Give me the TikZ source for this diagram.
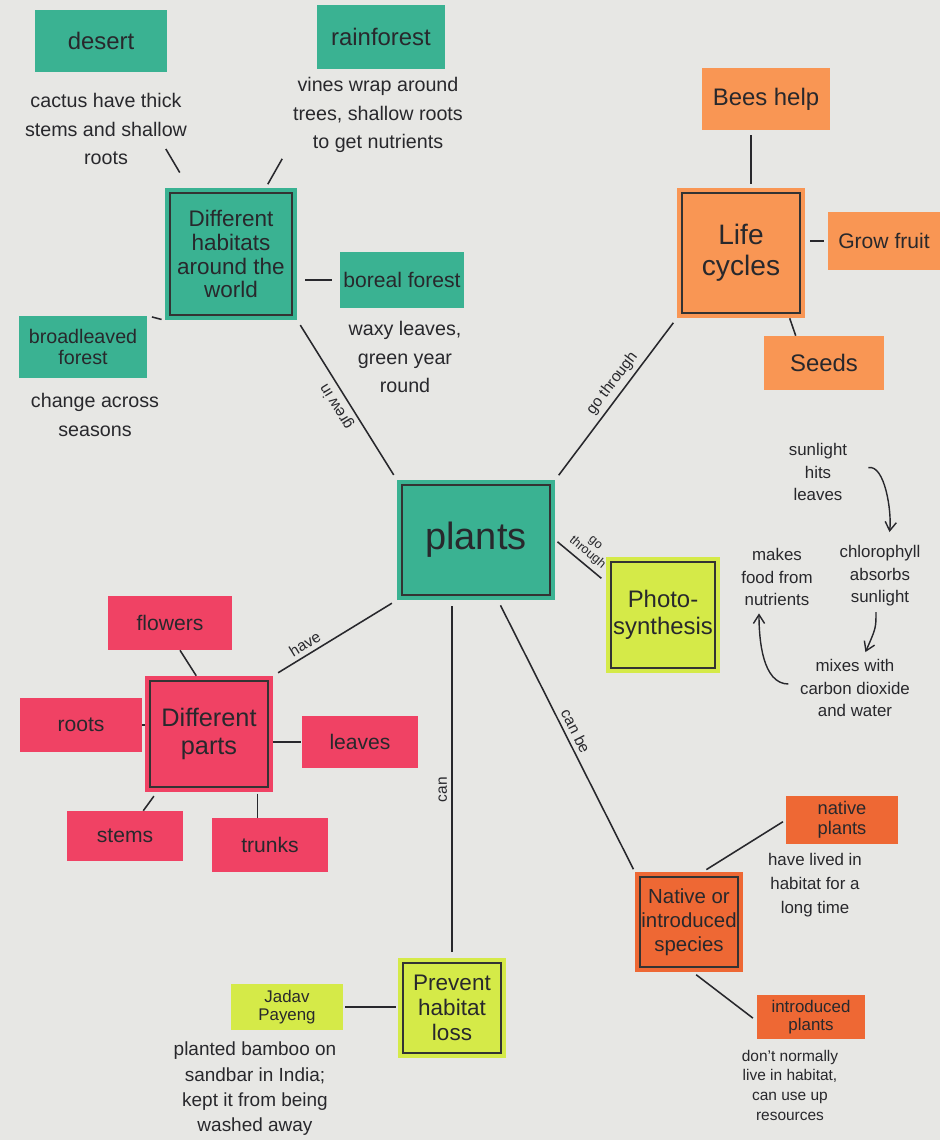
\documentclass[tikz,border=0pt]{standalone}
\usepackage{fontspec}
\setmainfont{Liberation Sans}
\usepackage{tikz}
\usetikzlibrary{arrows.meta,positioning,calc}
\definecolor{papier}{RGB}{231,231,228}
\definecolor{turqc}{RGB}{58,178,146}
\definecolor{orngc}{RGB}{249,150,84}
\definecolor{rosec}{RGB}{240,66,100}
\definecolor{jaunec}{RGB}{213,234,72}
\definecolor{rougec}{RGB}{238,104,52}
\definecolor{encre}{RGB}{40,40,44}
\newcommand{\fs}[2]{\fontsize{#1}{#2}\selectfont}
\tikzset{
  note/.style={align=center,inner sep=2pt,text=encre,font=\fs{15}{17}},
  sz/.style 2 args={minimum width=#1cm,minimum height=#2cm},
  hub/.style={note,path picture={\draw[line width=1.4pt,black!80]
      ([shift={(0.13cm,-0.13cm)}]path picture bounding box.north west) rectangle
      ([shift={(-0.13cm,0.13cm)}]path picture bounding box.south east);}},
  turq/.style={fill=turqc},
  orng/.style={fill=orngc},
  rose/.style={fill=rosec},
  jaune/.style={fill=jaunec},
  rouge/.style={fill=rougec},
  txt/.style={align=center,inner sep=1pt,text=encre,font=\fs{14}{20}},
  ln/.style={draw=encre,line width=1.1pt},
  fl/.style={ln,line width=1pt,-{Straight Barb[length=2.2mm,width=2.8mm]}},
  lbl/.style={font=\fs{11}{11},text=encre,inner sep=3pt,sloped,allow upside down},
}
\begin{document}
\begin{tikzpicture}[x=0.025cm,y=-0.025cm]
  \useasboundingbox (0,0) rectangle (940,1140);
  \fill[papier] (0,0) rectangle (940,1140);

  % centre
  \node[hub,turq,sz={3.95}{3.0},font=\fs{27}{28}] (plants) at (476,540) {plants};

  % habitats
  \node[hub,turq,sz={3.3}{3.3},font=\fs{16}{17}] (habitats) at (231,254) {Different\\habitats\\around the\\world};
  \node[note,turq,sz={3.3}{1.55},font=\fs{17}{18}] (desert) at (101,41) {desert};
  \node[note,turq,sz={3.2}{1.6},font=\fs{17}{18}] (rain) at (381,37) {rainforest};
  \node[note,turq,sz={3.1}{1.4}] (boreal) at (402,280) {boreal forest};
  \node[note,turq,sz={3.2}{1.55},font=\fs{14}{15}] (broad) at (83,347) {broadleaved\\forest};
  \node[txt] (cactus) at (106,129) {cactus have thick\\stems and shallow\\roots};
  \node[txt] (vines) at (378,115) {vines wrap around\\trees, shallow roots\\to get nutrients};
  \node[txt] (waxy) at (405,357) {waxy leaves,\\green year\\round};
  \node[txt] (seasons) at (95,415) {change across\\seasons};
  \draw[ln,shorten <=0.44cm,shorten >=0.58cm] ([xshift=0.6cm]habitats.north west) -- ([xshift=1.2cm]cactus.center);
  \draw[ln,shorten <=0.1cm,shorten >=0.8cm] ([xshift=0.87cm]habitats.north) -- ([shift={(-2cm,-0.4cm)}]vines.center);
  \draw[ln,shorten <=0.2cm,shorten >=0.2cm] (boreal.west) -- (boreal.west -| habitats.east);
  \draw[ln,shorten <=0.12cm,shorten >=0.08cm] (broad.north east) -- (habitats.south west);

  % cycles
  \node[hub,orng,sz={3.2}{3.25},font=\fs{20}{22}] (life) at (741,253) {Life\\cycles};
  \node[note,orng,sz={3.2}{1.55},font=\fs{17}{18}] (bees) at (766,99) {Bees help};
  \node[note,orng,sz={2.8}{1.45}] (fruit) at (884,241) {Grow fruit};
  \node[note,orng,sz={3.0}{1.35},font=\fs{17}{18}] (seeds) at (824,363) {Seeds};
  \draw[ln,shorten <=0.1cm,shorten >=0.12cm] ([xshift=0.25cm]life.north) -- ([xshift=0.25cm]life.north |- bees.south);
  \draw[ln,shorten <=0.1cm,shorten >=0.12cm] (fruit.west) -- (fruit.west -| life.east);
  \draw[ln] ([xshift=0.8cm]seeds.north west) -- ([xshift=0.65cm]seeds.north west |- life.south);

  % photosynthese
  \node[hub,jaune,sz={2.85}{2.9},font=\fs{17}{19}] (photo) at (663,615) {Photo-\\synthesis};
  \node[txt,font=\fs{12}{16}] (sun) at (818,472) {sunlight\\hits\\leaves};
  \node[txt,font=\fs{12}{16}] (chl) at (880,576) {chlorophyll\\absorbs\\sunlight};
  \node[txt,font=\fs{12}{16}] (mix) at (855,688) {mixes with\\carbon dioxide\\and water};
  \node[txt,font=\fs{12}{16}] (food) at (777,577) {makes\\food from\\nutrients};
  \draw[fl,shorten <=0.5cm,shorten >=0.3cm] (sun.east) .. controls +(0.9cm,0.2cm) and +(0.1cm,0.8cm) .. ([xshift=0.2cm]chl.north);
  \draw[fl,shorten <=0.1cm,shorten >=0.15cm] ([xshift=-0.1cm]chl.south) .. controls +(0cm,-0.5cm) .. ([xshift=0.2cm]mix.north);
  \draw[fl,shorten <=0.25cm,shorten >=0.15cm] ([yshift=0.1cm]mix.west) .. controls +(-0.9cm,0cm) and +(0cm,-0.8cm) .. ([xshift=-0.45cm]food.south);

  % parties
  \node[hub,rose,sz={3.2}{2.9},font=\fs{18}{20}] (parts) at (209,734) {Different\\parts};
  \node[note,rose,sz={3.1}{1.35}] (flowers) at (170,623) {flowers};
  \node[note,rose,sz={3.05}{1.35}] (roots) at (81,725) {roots};
  \node[note,rose,sz={2.9}{1.3}] (leaves) at (360,742) {leaves};
  \node[note,rose,sz={2.9}{1.25}] (stems) at (125,836) {stems};
  \node[note,rose,sz={2.9}{1.35}] (trunks) at (270,845) {trunks};
  \draw[ln] ([xshift=0.25cm]flowers.south) -- ([xshift=-0.32cm]parts.north);
  \draw[ln] (roots.east) -- (roots.east -| parts.west);
  \draw[ln,shorten <=0.03cm] (leaves.west) -- (leaves.west -| parts.east);
  \draw[ln,shorten <=0.12cm] ([xshift=0.3cm]parts.south west) -- ([xshift=-1.0cm]stems.north east);
  \draw[ln,shorten <=0.03cm] ([xshift=-0.4cm]parts.south east) -- ([xshift=-0.4cm]parts.south east |- trunks.north);

  % habitat
  \node[hub,jaune,sz={2.7}{2.5},font=\fs{16}{18}] (prevent) at (452,1008) {Prevent\\habitat\\loss};
  \node[note,jaune,sz={2.8}{1.15},font=\fs{12}{13}] (jadav) at (287,1007) {Jadav\\Payeng};
  \node[txt,font=\fs{13.5}{18}] (bamboo) at (255,1089) {planted bamboo on\\sandbar in India;\\kept it from being\\washed away};
  \draw[ln,shorten <=0.05cm,shorten >=0.05cm] (jadav.east) -- (jadav.east -| prevent.west);

  % especes
  \node[hub,rouge,sz={2.7}{2.5},font=\fs{14.5}{17}] (native) at (689,922) {Native or\\introduced\\species};
  \node[note,rouge,sz={2.8}{1.2},font=\fs{13}{14}] (natp) at (842,820) {native\\plants};
  \node[note,rouge,sz={2.7}{1.1},font=\fs{12}{13}] (intro) at (811,1017) {introduced\\plants};
  \node[txt,font=\fs{12}{17}] (lived) at (815,885) {have lived in\\habitat for a\\long time};
  \node[txt,font=\fs{11}{14}] (normal) at (790,1085) {don't normally\\live in habitat,\\can use up\\resources};
  \draw[ln,shorten <=0.1cm,shorten >=0.08cm] ([xshift=0.35cm]native.north) -- (natp.west);
  \draw[ln,shorten <=0.1cm,shorten >=0.12cm] ([xshift=0.1cm]native.south) -- ([yshift=-0.1cm]intro.west);

  % liens du centre
  \draw[ln,shorten <=4pt,shorten >=4pt] (plants.north west) -- node[font=\fs{11}{11},text=encre,inner sep=3pt,rotate=121.7,anchor=south] {grew in} (habitats.south east);
  \draw[ln,shorten <=4pt,shorten >=4pt] (plants.north east) -- node[lbl,above,pos=0.55] {go through} (life.south west);
  \draw[ln,shorten <=2pt,shorten >=4pt] (plants.east) -- node[lbl,above,align=center,font=\fs{9}{9}] {go\\through} (photo.150);
  \draw[ln,shorten <=4pt,shorten >=4pt] (parts.north east) -- node[lbl,above,pos=0.3] {have} (plants.south west);
  \draw[ln,shorten <=4pt,shorten >=4pt] (prevent.north) -- node[lbl,above,pos=0.47] {can} (prevent.north |- plants.south);
  \draw[ln,shorten <=4pt,shorten >=2pt] (plants.290) -- node[lbl,above] {can be} (native.north west);
\end{tikzpicture}
\end{document}
